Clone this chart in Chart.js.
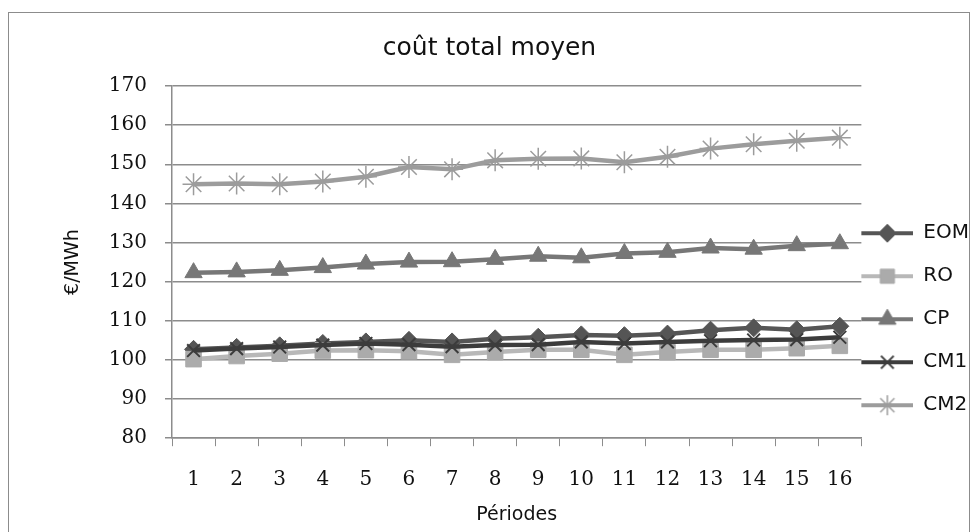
<!DOCTYPE html>
<html>
<head>
<meta charset="utf-8">
<script src="https://cdn.jsdelivr.net/npm/chart.js@4.4.1/dist/chart.umd.min.js"></script>
<style>
  html, body { margin: 0; padding: 0; background: #fff; }
  #wrap { position: relative; width: 973px; height: 532px; overflow: hidden; }
  #frame { position: absolute; left: 8px; top: 12px; width: 962px; height: 530px; border: 1px solid #8c8c8c; box-sizing: border-box; pointer-events: none; }
  canvas { position: absolute; left: 0; top: 0; }
</style>
</head>
<body>
<div id="wrap">
  <canvas id="c" width="973" height="532"></canvas>
  <div id="frame"></div>
</div>
<script>
const periods = ['1','2','3','4','5','6','7','8','9','10','11','12','13','14','15','16'];
const yTicks = [80, 90, 100, 110, 120, 130, 140, 150, 160, 170];
const EOM = [102.7, 103.2, 103.6, 104.2, 104.6, 105.0, 104.6, 105.4, 105.8, 106.4, 106.2, 106.6, 107.6, 108.2, 107.7, 108.6];
const RO  = [100.2, 101.0, 101.6, 102.4, 102.5, 102.2, 101.3, 102.0, 102.6, 102.6, 101.3, 102.0, 102.6, 102.6, 103.0, 103.6];
const CP  = [122.3, 122.5, 122.9, 123.6, 124.5, 125.0, 125.1, 125.7, 126.5, 126.1, 127.2, 127.5, 128.6, 128.3, 129.2, 129.7];
const CM1 = [102.4, 102.9, 103.3, 103.8, 104.2, 103.9, 103.4, 103.8, 103.9, 104.6, 104.2, 104.6, 104.9, 105.1, 105.2, 105.8];
const CM2 = [144.9, 145.1, 144.9, 145.6, 146.8, 149.3, 148.7, 151.0, 151.4, 151.5, 150.5, 151.9, 154.0, 155.1, 156.0, 156.8];
const seriesNames = ['EOM', 'RO', 'CP', 'CM1', 'CM2'];

const styles = [
  {line: '#555555', fill: '#555555', border: '#555555', pointStyle: 'rectRot', radius: 9, bw: 1, order: 5},
  {line: '#b8b8b8', fill: '#ababab', border: '#ababab', pointStyle: 'rect', radius: 11, bw: 1, order: 4},
  {line: '#777777', fill: '#777777', border: '#777777', pointStyle: 'triangle', radius: 10, bw: 1, order: 3},
  {line: '#3c3c3c', fill: '#3c3c3c', border: '#3c3c3c', pointStyle: 'crossRot', radius: 9, bw: 2, order: 2},
  {line: '#9c9c9c', fill: '#9c9c9c', border: '#9c9c9c', pointStyle: 'star', radius: 11, bw: 1.5, order: 1}
];
const values = [EOM, RO, CP, CM1, CM2];

function makeIcon(s) {
  const cv = document.createElement('canvas');
  cv.width = 52; cv.height = 24;
  const ctx = cv.getContext('2d');
  ctx.strokeStyle = s.line; ctx.lineWidth = 4;
  ctx.beginPath(); ctx.moveTo(0, 12); ctx.lineTo(52, 12); ctx.stroke();
  ctx.fillStyle = s.fill; ctx.strokeStyle = s.border; ctx.lineWidth = s.bw;
  Chart.helpers.drawPoint(ctx, {pointStyle: s.pointStyle, radius: Math.min(s.radius, 10), borderWidth: s.bw, rotation: 0}, 26, 12);
  return cv;
}
const icons = styles.map(makeIcon);

const datasets = seriesNames.map((name, i) => ({
  label: name,
  data: values[i],
  borderColor: styles[i].line,
  backgroundColor: styles[i].fill,
  borderWidth: 4.5,
  tension: 0,
  pointStyle: styles[i].pointStyle,
  pointRadius: styles[i].radius,
  pointBackgroundColor: styles[i].fill,
  pointBorderColor: styles[i].border,
  pointBorderWidth: styles[i].bw,
  order: styles[i].order
}));

new Chart(document.getElementById('c'), {
  type: 'line',
  data: { labels: periods, datasets },
  options: {
    responsive: false,
    animation: false,
    devicePixelRatio: 1,
    layout: { padding: { left: 0, right: -6, top: 20, bottom: 6 } },
    plugins: {
      title: {
        display: true,
        text: 'coût total moyen',
        color: '#111',
        font: { family: 'DejaVu Sans', size: 25, weight: 'normal', lineHeight: 1.2 },
        padding: { top: 13, bottom: 23 }
      },
      legend: {
        position: 'right',
        align: 'end',
        fullSize: false,
        labels: {
          usePointStyle: true,
          pointStyleWidth: 52,
          padding: 0,
          color: '#111',
          font: { family: 'DejaVu Sans', size: 20, lineHeight: 2.15 },
          generateLabels: (chart) => seriesNames.map((name, i) => ({
            text: [name],
            pointStyle: icons[i],
            fillStyle: styles[i].fill,
            strokeStyle: styles[i].line,
            lineWidth: 0,
            hidden: false,
            datasetIndex: i,
            fontColor: '#111'
          }))
        }
      },
      tooltip: { enabled: false }
    },
    scales: {
      x: {
        type: 'category',
        offset: true,
        grid: { display: true, drawOnChartArea: false, drawTicks: true, tickLength: 8, color: '#8c8c8c', offset: true },
        border: { display: true, color: '#8c8c8c', width: 1.5 },
        ticks: { color: '#111', padding: 22, font: { family: 'DejaVu Serif', size: 20 }, maxRotation: 0, autoSkip: false },
        title: { display: true, text: 'Périodes', color: '#111', font: { family: 'DejaVu Sans', size: 19 }, padding: { top: -11, bottom: 0 } }
      },
      y: {
        min: yTicks[0],
        max: yTicks[yTicks.length - 1],
        afterBuildTicks: (scale) => { scale.ticks = yTicks.map(v => ({ value: v })); },
        grid: { color: '#8c8c8c', lineWidth: 1.5, tickLength: 7, drawTicks: true },
        border: { display: true, color: '#8c8c8c', width: 1.5 },
        ticks: { color: '#111', padding: 18, font: { family: 'DejaVu Serif', size: 20 } },
        title: { display: true, text: '€/MWh', color: '#111', font: { family: 'DejaVu Sans', size: 19 }, padding: 62 },
        afterFit: (scale) => { scale.width = 172; }
      }
    }
  }
});
</script>
</body>
</html>
